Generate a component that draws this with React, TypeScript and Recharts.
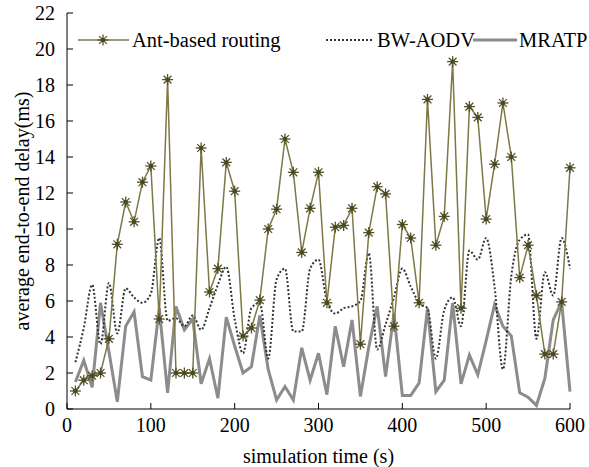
import { LineChart, Line, XAxis, YAxis } from "recharts"

const times = [
  10, 20, 30, 40, 50, 60, 70, 80, 90, 100, 110, 120, 130, 140, 150, 160, 170, 180, 190, 200,
  210, 220, 230, 240, 250, 260, 270, 280, 290, 300, 310, 320, 330, 340, 350, 360, 370, 380, 390, 400,
  410, 420, 430, 440, 450, 460, 470, 480, 490, 500, 510, 520, 530, 540, 550, 560, 570, 580, 590, 600,
]

const antBased = [
  1.0, 1.6, 1.85, 2.0, 3.9, 9.15, 11.5, 10.4, 12.6, 13.5, 5.0, 18.3, 2.0, 2.0, 2.0, 14.5, 6.5, 7.8, 13.7, 12.1,
  4.05, 4.5, 6.05, 10.0, 11.1, 15.0, 13.15, 8.7, 11.15, 13.15, 5.9, 10.1, 10.2, 11.15, 3.6, 9.8, 12.35, 11.95, 4.6, 10.25,
  9.5, 5.9, 17.2, 9.1, 10.7, 19.3, 5.6, 16.8, 16.2, 10.55, 13.6, 17.0, 14.0, 7.3, 9.1, 6.3, 3.05, 3.05, 5.95, 13.4,
]

const bwAodv = [
  2.6, 4.5, 6.9, 3.6, 7.0, 4.2, 6.7, 6.2, 5.9, 6.4, 9.5, 4.9, 5.05, 4.6, 5.2, 4.4, 5.6, 6.9, 7.9, 5.0,
  3.1, 5.6, 5.9, 2.8, 7.2, 7.8, 4.3, 4.3, 7.8, 8.3, 6.0, 5.3, 5.6, 5.7, 6.0, 8.65, 3.3, 4.7, 6.2, 7.8,
  6.8, 5.9, 5.6, 2.8, 5.5, 6.2, 4.6, 8.8, 8.3, 9.5, 6.8, 2.2, 7.4, 9.4, 9.7, 3.9, 7.6, 6.3, 9.5, 7.8,
]

const mratp = [
  1.5, 2.7, 1.2, 5.9, 3.2, 0.4, 4.6, 5.4, 1.8, 1.6, 5.6, 0.9, 5.7, 4.4, 5.0, 1.4, 2.8, 0.6, 5.1, 3.5,
  2.0, 2.35, 5.2, 2.2, 0.5, 1.25, 0.5, 3.4, 1.6, 3.1, 0.8, 4.6, 2.35, 4.95, 0.7, 3.45, 5.7, 1.8, 5.3, 0.75,
  0.75, 1.45, 5.6, 0.96, 1.6, 5.9, 1.4, 3.0, 1.9, 3.8, 5.8, 4.6, 4.05, 0.9, 0.65, 0.2, 1.7, 4.95, 5.95, 0.96,
]

const xTicks = [0, 100, 200, 300, 400, 500, 600]
const yTicks = [0, 2, 4, 6, 8, 10, 12, 14, 16, 18, 20, 22]

const data = times.map((t, i) => ({ time: t, ant: antBased[i], bw: bwAodv[i], mratp: mratp[i] }))

const FONT = "'Liberation Serif', 'Times New Roman', serif"
const ANT_LINE = "#7d7846"
const ANT_MARK = "#54522a"

function Star(props: any) {
  const { cx, cy } = props
  if (cx == null || cy == null) return null
  const r = 5.5
  const d = r * 0.7071
  return (
    <g stroke={ANT_MARK} strokeWidth={1.3}>
      <line x1={cx - r} y1={cy} x2={cx + r} y2={cy} />
      <line x1={cx} y1={cy - r} x2={cx} y2={cy + r} />
      <line x1={cx - d} y1={cy - d} x2={cx + d} y2={cy + d} />
      <line x1={cx - d} y1={cy + d} x2={cx + d} y2={cy - d} />
      <circle cx={cx} cy={cy} r={2.2} fill="#4a481f" stroke="none" />
    </g>
  )
}

// legend sits inside the plot area, drawn as an overlay so it takes no room from the chart
function LegendBox() {
  const y = 40
  return (
    <svg width={589} height={467} style={{ position: "absolute", left: 0, top: 0, pointerEvents: "none" }}>
      <line x1={78} y1={y} x2={129} y2={y} stroke={ANT_LINE} strokeWidth={1.5} />
      <Star cx={103} cy={y} />
      <text x={132} y={y} dominantBaseline="central" fontFamily={FONT} fontSize={20.5} fill="#000">
        Ant-based routing
      </text>
      <line x1={326} y1={y} x2={373} y2={y} stroke="#333" strokeWidth={2} strokeDasharray="2 2" />
      <text x={377} y={y} dominantBaseline="central" fontFamily={FONT} fontSize={20.5} fill="#000">
        BW-AODV
      </text>
      <line x1={473} y1={y} x2={517} y2={y} stroke="#8c8c8c" strokeWidth={3} />
      <text x={519} y={y} dominantBaseline="central" fontFamily={FONT} fontSize={20.5} fill="#000">
        MRATP
      </text>
    </svg>
  )
}

export default function App() {
  return (
    <div style={{ position: "absolute", left: 0, top: 0, width: 589, height: 467, background: "#fff" }}>
      <LineChart width={589} height={467} data={data} margin={{ top: 13, right: 19, left: 0, bottom: 0 }}>
        <XAxis
          dataKey="time"
          type="number"
          domain={[0, 600]}
          ticks={xTicks}
          height={58}
          tickSize={-6}
          tickMargin={15}
          axisLine={{ stroke: "#000" }}
          tickLine={{ stroke: "#000" }}
          tick={{ fill: "#000", fontSize: 20, fontFamily: FONT }}
          label={{
            value: "simulation time (s)",
            position: "insideBottom",
            offset: 4,
            fill: "#000",
            fontSize: 20,
            fontFamily: FONT,
          }}
        />
        <YAxis
          type="number"
          domain={[0, 22]}
          ticks={yTicks}
          width={67}
          tickSize={-6}
          tickMargin={18}
          interval={0}
          axisLine={{ stroke: "#000" }}
          tickLine={{ stroke: "#000" }}
          tick={{ fill: "#000", fontSize: 20, fontFamily: FONT }}
          label={{
            value: "average end-to-end delay(ms)",
            angle: -90,
            position: "insideLeft",
            offset: 22,
            style: { textAnchor: "middle" },
            fill: "#000",
            fontSize: 20,
            fontFamily: FONT,
          }}
        />
        <Line
          type="linear"
          dataKey="mratp"
          stroke="#8c8c8c"
          strokeWidth={3}
          dot={false}
          isAnimationActive={false}
        />
        <Line
          type="monotone"
          dataKey="bw"
          stroke="#333"
          strokeWidth={2}
          strokeDasharray="2 2"
          dot={false}
          isAnimationActive={false}
        />
        <Line
          type="linear"
          dataKey="ant"
          stroke={ANT_LINE}
          strokeWidth={1.5}
          dot={<Star />}
          isAnimationActive={false}
        />
      </LineChart>
      <LegendBox />
    </div>
  )
}
